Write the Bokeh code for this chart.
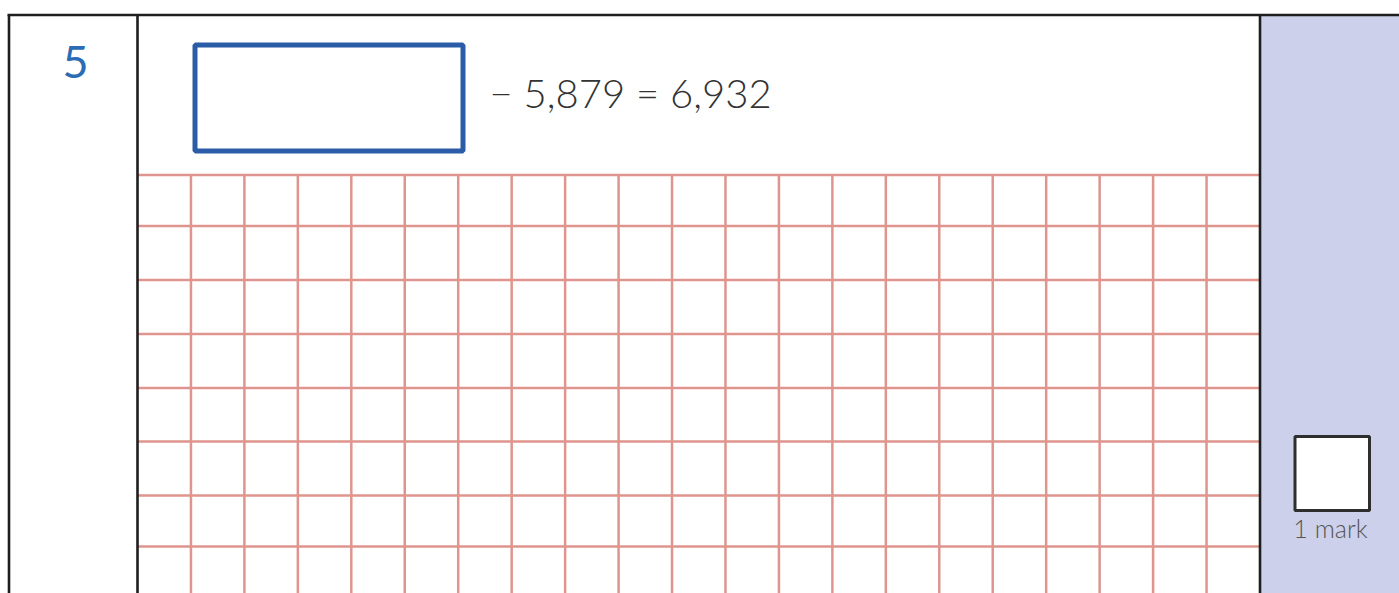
from bokeh.plotting import figure
from bokeh.models import Range1d
from bokeh.core.properties import value
from bokeh.embed import file_html
from bokeh.resources import INLINE
import numpy as np

# ---- content ----
question_number = ["5"]
equation_text = ["\u2212 5,879 = 6,932"]
mark_label = ["1 mark"]
grid_columns = 21

# ---- layout (page pixel space) ----
W, H = 1399, 593
p = figure(width=W, height=H, output_backend="svg", toolbar_location=None,
           x_range=Range1d(0, W), y_range=Range1d(H, 0),
           min_border=0, outline_line_color=None)
p.axis.visible = False
p.grid.visible = False
p.background_fill_color = "white"
p.border_fill_color = "white"

LEFT, DIV, RIGHT, TOP, BOTTOM = 8.5, 137, 1259.5, 14.5, 600

# purple mark panel
p.quad(left=[RIGHT], right=[1400], top=[TOP], bottom=[BOTTOM],
       fill_color="#ccd0ea", line_color=None)

# red grid
xs = np.linspace(DIV, RIGHT, grid_columns + 1)[1:-1]
ys = [174.5, 225.5, 279.5, 333.5, 387.5, 441, 495, 546]
p.segment(x0=xs, x1=xs, y0=[174.5] * len(xs), y1=[BOTTOM] * len(xs),
          line_color="#df958e", line_width=2.5)
p.segment(x0=[DIV] * len(ys), x1=[RIGHT] * len(ys), y0=ys, y1=ys,
          line_color="#df958e", line_width=2.5)

# frame lines
p.segment(x0=[LEFT, DIV, RIGHT, 7], x1=[LEFT, DIV, RIGHT, 1400],
          y0=[TOP, TOP, TOP, TOP], y1=[BOTTOM, BOTTOM, BOTTOM, TOP],
          line_color="#1e1e1e", line_width=2.6)

# answer box
p.quad(left=[194.5], right=[462.5], top=[44.5], bottom=[150.5],
       fill_color="white", line_color="#2a5ca8", line_width=5)

# mark box
p.quad(left=[1294.5], right=[1369], top=[436], bottom=[510],
       fill_color="white", line_color="#2e2e2e", line_width=3)

LIGHT = value("Lato Light")
p.text(x=[75], y=[61], text=question_number, text_align="center",
       text_baseline="alphabetic", text_font=value("Lato"), text_font_size="45px",
       text_color="#2b6cb5")
p.text(x=[489], y=[92], text=equation_text, text_align="left",
       text_baseline="alphabetic", text_font=LIGHT, text_font_size="40px",
       text_color="#333333")
p.text(x=[1330], y=[527], text=mark_label, text_align="center",
       text_baseline="alphabetic", text_font=LIGHT, text_font_size="25px",
       text_color="#555555")

open("out.html", "w").write(file_html(p, INLINE))
